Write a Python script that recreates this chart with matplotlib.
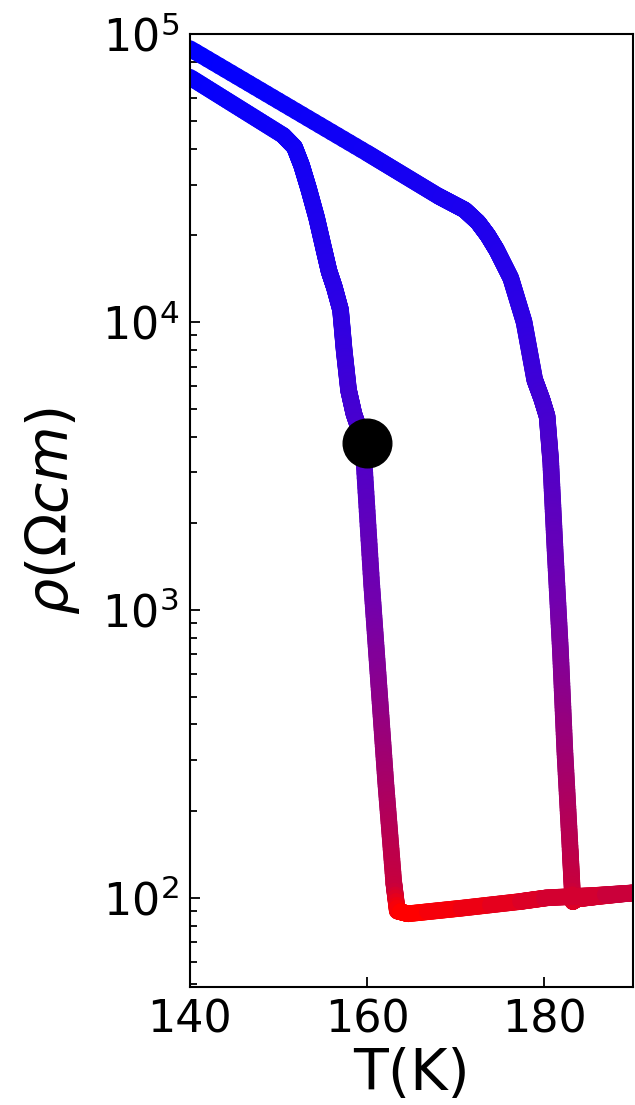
import numpy as np
import matplotlib
matplotlib.use('Agg')
import matplotlib.pyplot as plt
from matplotlib.collections import LineCollection
from matplotlib.colors import LinearSegmentedColormap, Normalize

# heating branch (upper loop)
T_up = [140, 160, 168, 171.0, 172.5, 173.6, 174.6, 176.2, 177.7, 178.9, 179.7,
        180.3, 180.7, 181.2, 181.8, 182.3, 182.9, 183.2, 183.6, 186, 190]
rho_up = [8.9e4, 3.86e4, 2.74e4, 2.45e4, 2.22e4, 2.0e4, 1.78e4, 1.42e4, 1.0e4,
          6300, 5400, 4700, 3300, 1610, 726, 324, 147, 97, 99, 101, 104]

# cooling branch (lower loop)
T_dn = [140, 150.5, 151.8, 152.6, 153.4, 154.3, 155.1, 155.7, 156.3, 157.0, 157.4,
        157.9, 158.5, 159.5, 160.5, 161.3, 162.1, 163.0, 163.4, 164.6, 170.6,
        177.2, 180.3, 185.9, 190]
rho_dn = [7.08e4, 4.45e4, 4.05e4, 3.5e4, 2.9e4, 2.3e4, 1.8e4, 1.5e4, 1.32e4,
          1.1e4, 8000, 5800, 4800, 3900, 1240, 558, 251, 113, 90, 88, 92, 97, 100,
          102, 104]

# marked point
T_pt = [160]
rho_pt = [3.8e3]

cmap = LinearSegmentedColormap.from_list('rb', [
    (0.0, (1.0, 0.0, 0.0)),
    (0.025, (0.78, 0.0, 0.24)),
    (0.35, (0.45, 0.0, 0.68)),
    (0.70, (0.17, 0.0, 0.90)),
    (1.0, (0.0, 0.0, 1.0))])
norm = Normalize(vmin=1.94, vmax=4.95)


def grad_line(ax, T, rho, lw=12):
    # split each straight piece into short bits so the colour can vary along it
    x = np.asarray(T, float)
    ly = np.log10(np.asarray(rho, float))
    segs, cols = [], []
    for i in range(len(x) - 1):
        n = 30
        t = np.linspace(0, 1, n + 1)
        xs = x[i] + (x[i + 1] - x[i]) * t
        ys = ly[i] + (ly[i + 1] - ly[i]) * t
        for j in range(n):
            segs.append([(xs[j], 10 ** ys[j]), (xs[j + 1], 10 ** ys[j + 1])])
            cols.append(cmap(norm(0.5 * (ys[j] + ys[j + 1]))))
    lc = LineCollection(segs, colors=cols, linewidths=lw, capstyle='round',
                        joinstyle='round')
    ax.add_collection(lc)


fig = plt.figure(figsize=(6.35, 11.05), dpi=100)
ax = fig.add_axes([0.299, 0.1068, 0.698, 0.8624])
ax.set_yscale('log')

grad_line(ax, T_up, rho_up)
grad_line(ax, T_dn, rho_dn)
ax.plot(T_pt, rho_pt, 'o', color='black', markersize=35, zorder=5)

ax.set_xlim(140, 190)
ax.set_ylim(49, 1e5)
ax.set_xticks([140, 160, 180])
ax.tick_params(which='both', direction='in', labelsize=32, width=1.3)
ax.tick_params(which='major', length=7, pad=8)
ax.tick_params(which='minor', length=5)
for s in ax.spines.values():
    s.set_linewidth(1.5)

ax.set_xlabel('T(K)', fontsize=41, labelpad=4)
ax.set_ylabel(r'$\rho(\Omega cm)$', fontsize=41, labelpad=14)

fig.savefig('out.png', dpi=100)
